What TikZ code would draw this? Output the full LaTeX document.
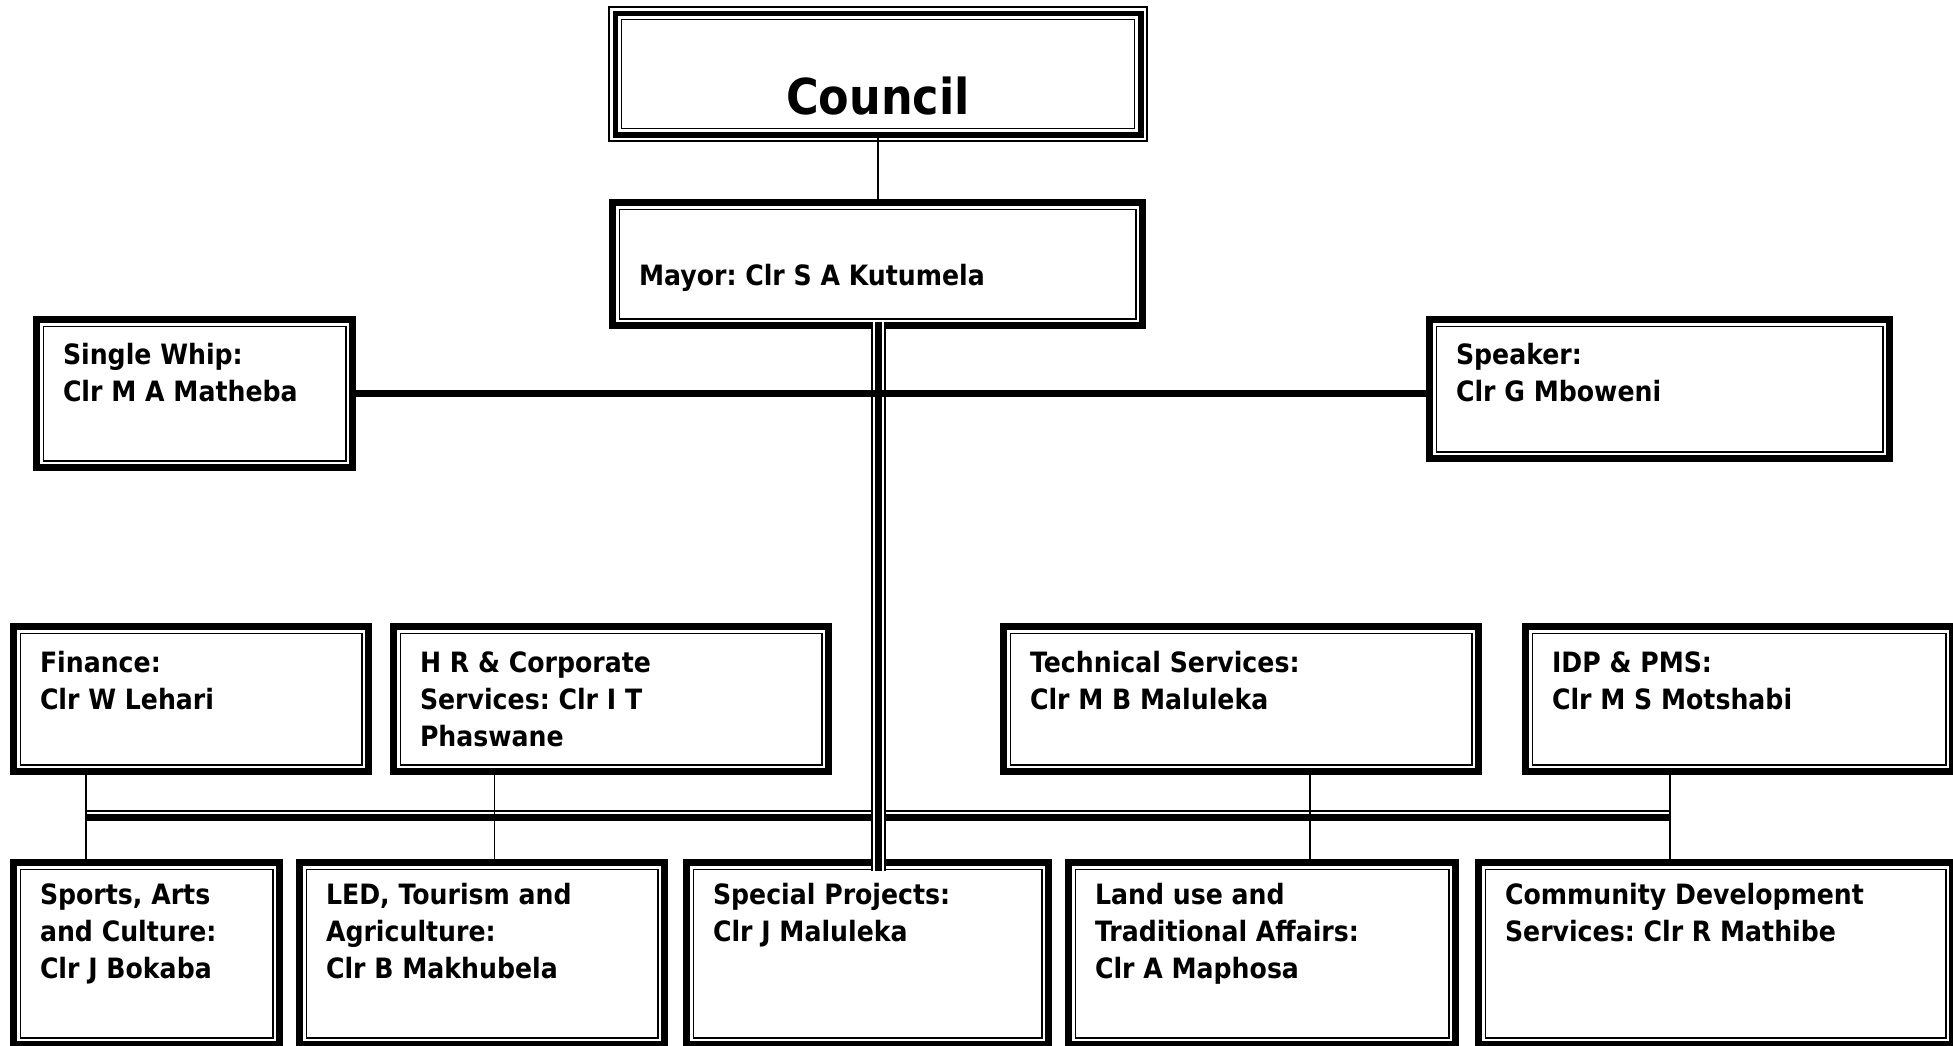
\documentclass[tikz,border=0pt]{standalone}
\usepackage{fontspec}
\setmainfont{DejaVu Sans}[FakeStretch=0.9]
\usetikzlibrary{calc}
\frenchspacing
\tikzset{
  frame/.style={draw, line width=7pt, inner sep=0pt, outer sep=0pt, anchor=north west,
                font=\bfseries\fontsize{28}{37}\selectfont},
  thinframe/.style={line width=1.8pt},
  conn/.style={line width=1.5pt},
  bar/.style={line width=7pt},
}
\newcommand\orgbox[7]{%
  \pgfmathsetmacro\bw{#4-#2-7}%
  \pgfmathsetmacro\bh{#5-#3-7}%
  \node[frame] (#1) at ({#2+3.5},{#3+3.5})
    {\parbox[c][\bh pt][t]{\bw pt}{\frenchspacing\raggedright\leftskip=26.5pt\rule{0pt}{#6pt}#7}};
  \draw[thinframe] ([shift={(6.9,6.9)}]#1.north west) rectangle ([shift={(-6.9,-6.9)}]#1.south east);
}
\begin{document}
\begin{tikzpicture}[x=1pt,y=-1pt]
\useasboundingbox (0,0) rectangle (1953,1045);
\fill[white] (0,0) rectangle (1953,1045);
\clip (0,0) rectangle (1953,1045);

% Council (triple frame)
\node[draw, line width=5.6pt, inner sep=0pt, outer sep=0pt, anchor=north west,
      font=\bfseries\fontsize{49.5}{50}\selectfont] (council) at (615.3,13.3)
  {\parbox[c][121.4pt][t]{525.4pt}{\centering\rule{0pt}{100.7pt}Council}};
\draw[line width=1.7pt] ([shift={(-6.2,-6.2)}]council.north west) rectangle ([shift={(6.2,6.2)}]council.south east);
\draw[line width=1.3pt] ([shift={(6.3,6.3)}]council.north west) rectangle ([shift={(-6.3,-6.3)}]council.south east);

% boxes
\orgbox{mayor}{609}{199}{1146}{329}{82.5}{Mayor: Clr S A Kutumela}
\orgbox{whip}{33}{316}{356}{471}{44.5}{Single Whip:\\Clr M A Matheba}
\orgbox{speaker}{1426}{316}{1893}{462}{44.5}{Speaker:\\Clr G Mboweni}
\orgbox{finance}{10}{623}{372}{775}{45.5}{Finance:\\Clr W Lehari}
\orgbox{hr}{390}{623}{832}{775}{45.5}{H R \& Corporate\\Services: Clr I T\\Phaswane}
\orgbox{tech}{1000}{623}{1482}{775}{45.5}{Technical Services:\\Clr M B Maluleka}
\orgbox{idp}{1522}{623}{1956}{775}{45.5}{IDP \& PMS:\\Clr M S Motshabi}
\orgbox{sports}{10}{859}{283}{1048}{41.5}{Sports, Arts\\and Culture:\\Clr J Bokaba}
\orgbox{led}{296}{859}{668}{1048}{41.5}{LED, Tourism and\\Agriculture:\\Clr B Makhubela}
\orgbox{special}{683}{859}{1052}{1048}{41.5}{Special Projects:\\Clr J Maluleka}
\orgbox{land}{1065}{859}{1459}{1048}{41.5}{Land use and\\Traditional Affairs:\\Clr A Maphosa}
\orgbox{community}{1475}{859}{1956}{1048}{41.5}{Community Development\\Services: Clr R Mathibe}

% connectors
\draw[conn] (council.south) -- (council.south |- mayor.north);

\coordinate (v1) at (86,800);
\coordinate (v2) at (494.5,800);
\coordinate (v3) at (1310,800);
\coordinate (v4) at (1670,800);
\draw[conn] (v1 |- finance.south) -- (v1 |- sports.north);
\draw[conn] (v2 |- hr.south) -- (v2 |- led.north);
\draw[conn] (v3 |- tech.south) -- (v3 |- land.north);
\draw[conn] (v4 |- idp.south) -- (v4 |- community.north);

\coordinate (busL) at (86,811);
\coordinate (busR) at (1670,811);
\draw[line width=1.6pt] (busL) -- (busR);
\draw[bar] ($(busL)+(0,6.5)$) -- ($(busR)+(0,6.5)$);

\coordinate (ta) at ($(mayor.south)+(1,-3.5)$);
\coordinate (tb) at ($(special.north)+(0,8.5)$);
\foreach \w/\c in {14.6/black, 11.2/white, 6.3/black}
  \draw[line width=\w pt, \c] (ta) -- (ta |- tb);

\draw[bar] (whip.east) -- (whip.east -| speaker.west);
\end{tikzpicture}
\end{document}
